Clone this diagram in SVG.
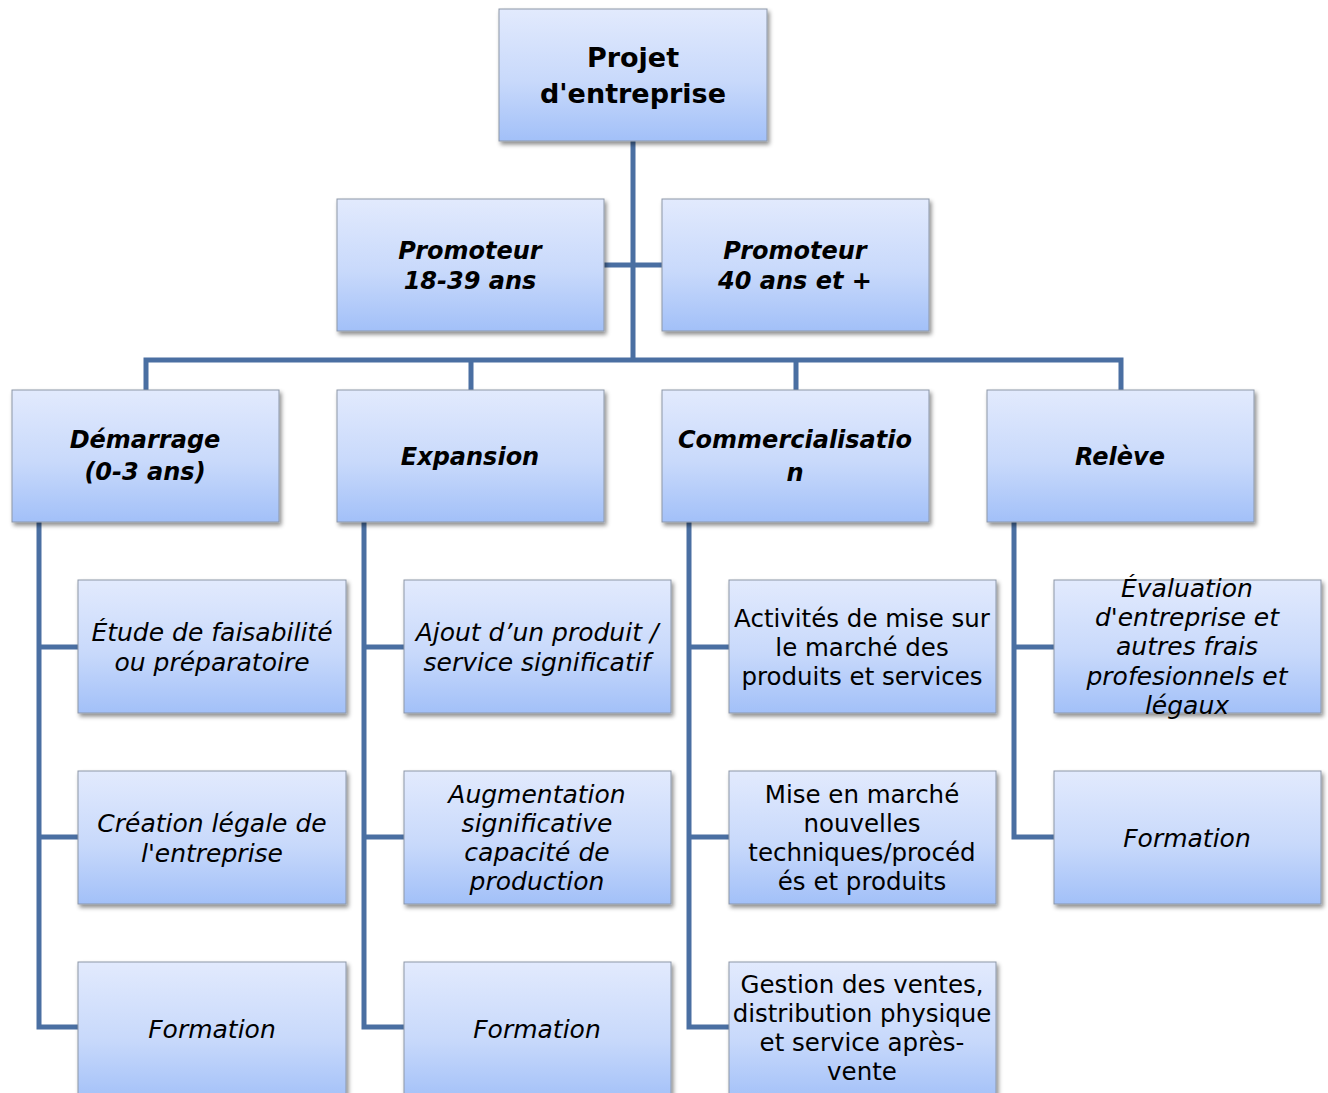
<svg xmlns="http://www.w3.org/2000/svg" width="1328" height="1093" viewBox="0 0 1328 1093">
<style>
.box{fill:url(#g);stroke:#8d97a8;stroke-width:1;filter:url(#sh)}
.c{fill:none;stroke:#4a6fa2;stroke-width:5}
text{font-family:"DejaVu Sans","Liberation Sans",sans-serif;text-anchor:middle;fill:#000}
.top{font-size:27px;font-weight:bold}
.lv{font-size:24px;font-weight:bold;font-style:italic}
.it{font-size:25px;font-style:italic}
.rg{font-size:24.5px}
</style>
<defs>
<linearGradient id="g" x1="0" y1="0" x2="0" y2="1">
<stop offset="0" stop-color="#e2eafd"/>
<stop offset="0.55" stop-color="#c8d9fb"/>
<stop offset="1" stop-color="#a2c0f8"/>
</linearGradient>
<filter id="sh" x="-10%" y="-10%" width="125%" height="130%">
<feDropShadow dx="2" dy="3" stdDeviation="2" flood-color="#000" flood-opacity="0.45"/>
</filter>
</defs>
<g id="connectors">
<path class="c" d="M633 141V360M604 265H662M146 390V360H1121V390M471 360V390M796 360V390"/>
<path class="c" d="M39 522V1027H78M39 647H78M39 837H78"/>
<path class="c" d="M364 522V1027H404M364 647H404M364 837H404"/>
<path class="c" d="M689 522V1027H729M689 647H729M689 837H729"/>
<path class="c" d="M1014 522V837H1054M1014 647H1054"/>
</g>
<g id="n-projet"><rect class="box" x="499" y="9" width="268" height="132"/><text class="top" x="633" y="67">Projet</text><text class="top" x="633" y="103">d'entreprise</text></g>
<g id="n-prom1"><rect class="box" x="337" y="199" width="267" height="132"/><text class="lv" x="470" y="259">Promoteur</text><text class="lv" x="470" y="289">18-39 ans</text></g>
<g id="n-prom2"><rect class="box" x="662" y="199" width="267" height="132"/><text class="lv" x="795" y="259">Promoteur</text><text class="lv" x="795" y="289">40 ans et +</text></g>
<g id="n-demarrage"><rect class="box" x="12" y="390" width="267" height="132"/><text class="lv" x="145" y="448">Démarrage</text><text class="lv" x="145" y="480">(0-3 ans)</text></g>
<g id="n-expansion"><rect class="box" x="337" y="390" width="267" height="132"/><text class="lv" x="470" y="465">Expansion</text></g>
<g id="n-commercialisation"><rect class="box" x="662" y="390" width="267" height="132"/><text class="lv" x="795" y="448">Commercialisatio</text><text class="lv" x="795" y="481">n</text></g>
<g id="n-releve"><rect class="box" x="987" y="390" width="267" height="132"/><text class="lv" x="1120" y="465">Relève</text></g>
<g id="n-etude"><rect class="box" x="78" y="580" width="268" height="133"/><text class="it" x="212" y="641">Étude de faisabilité</text><text class="it" x="212" y="671">ou préparatoire</text></g>
<g id="n-creation"><rect class="box" x="78" y="771" width="268" height="133"/><text class="it" x="212" y="832">Création légale de</text><text class="it" x="212" y="862">l'entreprise</text></g>
<g id="n-formation1"><rect class="box" x="78" y="962" width="268" height="140"/><text class="it" x="212" y="1038">Formation</text></g>
<g id="n-ajout"><rect class="box" x="404" y="580" width="267" height="133"/><text class="it" x="537" y="641">Ajout d’un produit /</text><text class="it" x="537" y="671">service significatif</text></g>
<g id="n-augmentation"><rect class="box" x="404" y="771" width="267" height="133"/><text class="it" x="537" y="803">Augmentation</text><text class="it" x="537" y="832">significative</text><text class="it" x="537" y="861">capacité de</text><text class="it" x="537" y="890">production</text></g>
<g id="n-formation2"><rect class="box" x="404" y="962" width="267" height="140"/><text class="it" x="537" y="1038">Formation</text></g>
<g id="n-activites"><rect class="box" x="729" y="580" width="267" height="133"/><text class="rg" x="862" y="627">Activités de mise sur</text><text class="rg" x="862" y="656">le marché des</text><text class="rg" x="862" y="685">produits et services</text></g>
<g id="n-mise"><rect class="box" x="729" y="771" width="267" height="133"/><text class="rg" x="862" y="803">Mise en marché</text><text class="rg" x="862" y="832">nouvelles</text><text class="rg" x="862" y="861">techniques/procéd</text><text class="rg" x="862" y="890">és et produits</text></g>
<g id="n-gestion"><rect class="box" x="729" y="962" width="267" height="140"/><text class="rg" x="862" y="993">Gestion des ventes,</text><text class="rg" x="862" y="1022">distribution physique</text><text class="rg" x="862" y="1051">et service après-</text><text class="rg" x="862" y="1080">vente</text></g>
<g id="n-evaluation"><rect class="box" x="1054" y="580" width="267" height="133"/><text class="it" x="1187" y="597">Évaluation</text><text class="it" x="1187" y="626">d'entreprise et</text><text class="it" x="1187" y="655">autres frais</text><text class="it" x="1187" y="685">profesionnels et</text><text class="it" x="1187" y="714">légaux</text></g>
<g id="n-formation3"><rect class="box" x="1054" y="771" width="267" height="133"/><text class="it" x="1187" y="847">Formation</text></g>
</svg>
